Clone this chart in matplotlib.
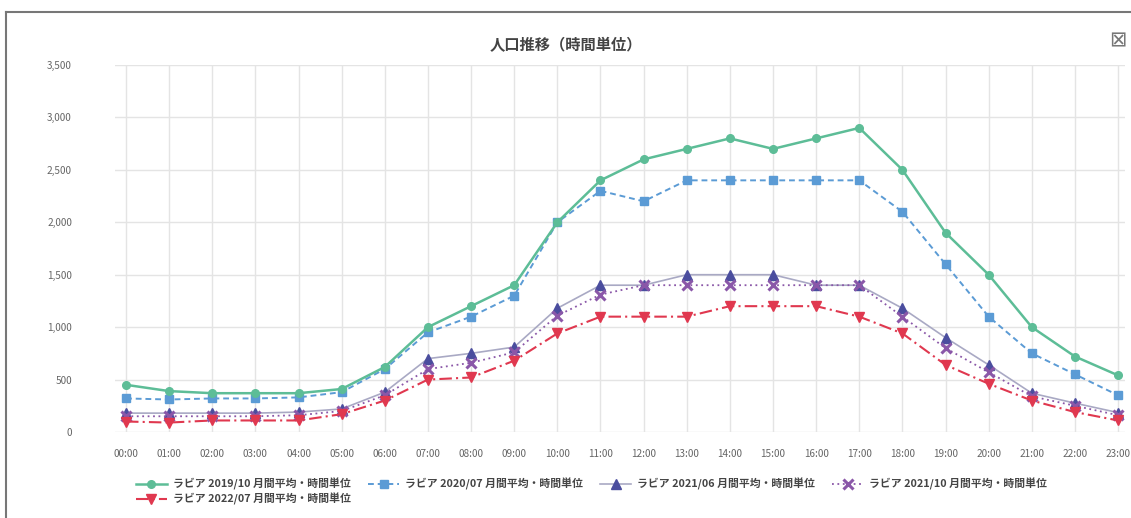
import matplotlib
matplotlib.use("Agg")
import matplotlib.pyplot as plt
from matplotlib.lines import Line2D

plt.rcParams['font.family'] = ['Noto Sans CJK JP', 'DejaVu Sans']

hours = ["%02d:00" % h for h in range(24)]
y_ticks = [0, 500, 1000, 1500, 2000, 2500, 3000, 3500]

s2019_10 = [450, 390, 370, 370, 370, 410, 620, 1000, 1200, 1400, 2000, 2400,
            2600, 2700, 2800, 2700, 2800, 2900, 2500, 1900, 1500, 1000, 720, 540]
s2020_07 = [320, 310, 320, 320, 330, 380, 600, 950, 1100, 1300, 2000, 2300,
            2200, 2400, 2400, 2400, 2400, 2400, 2100, 1600, 1100, 750, 550, 350]
s2021_06 = [180, 180, 180, 180, 190, 220, 380, 700, 750, 810, 1180, 1400,
            1400, 1500, 1500, 1500, 1400, 1400, 1180, 900, 640, 370, 275, 185]
s2021_10 = [150, 150, 150, 150, 160, 200, 350, 600, 660, 760, 1110, 1310,
            1400, 1400, 1400, 1400, 1400, 1400, 1100, 800, 570, 340, 250, 160]
s2022_07 = [100, 90, 110, 110, 110, 170, 300, 500, 520, 680, 940, 1100,
            1100, 1100, 1200, 1200, 1200, 1100, 940, 640, 460, 300, 190, 110]

labels = [
    "ラビア 2019/10 月間平均・時間単位",
    "ラビア 2020/07 月間平均・時間単位",
    "ラビア 2021/06 月間平均・時間単位",
    "ラビア 2021/10 月間平均・時間単位",
    "ラビア 2022/07 月間平均・時間単位",
]

fig = plt.figure(figsize=(11.31, 5.18), dpi=100)
ax = fig.add_axes([115 / 1131, 1 - 432 / 518, (1125 - 115) / 1131, (432 - 65) / 518])

x = list(range(len(hours)))
h1, = ax.plot(x, s2019_10, color="#5dbd97", lw=1.8, ls="-", marker="o", ms=5.5,
              label=labels[0], clip_on=False, zorder=5)
h2, = ax.plot(x, s2020_07, color="#5b9bd5", lw=1.4, ls=(0, (3, 2)), marker="s", ms=6,
              label=labels[1], clip_on=False, zorder=4)
h3, = ax.plot(x, s2021_06, color="#a9a9c4", lw=1.2, ls="-", marker="^", ms=7,
              mfc="#4a4d9e", mec="#4a4d9e", label=labels[2], clip_on=False, zorder=3)
h4, = ax.plot(x, s2021_10, color="#8a57a8", lw=1.3, ls=(0, (1, 2)), marker="x", ms=7,
              mew=2.2, label=labels[3], clip_on=False, zorder=3)
h5, = ax.plot(x, s2022_07, color="#e0384f", lw=1.5, ls=(0, (6, 2, 1, 2)), marker="v", ms=7,
              label=labels[4], clip_on=False, zorder=3)

ax.set_xlim(-0.255, 23.16)
ax.set_ylim(0, 3500)
ax.set_xticks(x)
ax.set_xticklabels(hours)
ax.set_yticks(y_ticks)
ax.set_yticklabels(["{:,}".format(v) for v in y_ticks])
ax.tick_params(axis="both", length=0, labelsize=7.2, labelcolor="#666666")
ax.tick_params(axis="y", pad=31)
ax.tick_params(axis="x", pad=12)
ax.grid(True, color="#e4e4e4", lw=1.0)
ax.set_axisbelow(True)
for sp in ax.spines.values():
    sp.set_visible(False)

fig.text(0.5, 1 - 45 / 518, "人口推移（時間単位）", ha="center", va="center",
         fontsize=11, fontweight="bold", color="#444444")
fig.text(1118 / 1131, 1 - 40 / 518, "⊠", ha="center", va="center",
         fontsize=15, color="#777777", family=["DejaVu Sans"])

# order so that matplotlib's column filling gives 4 on the first row, 1 on the second
leg = fig.legend([h1, h5, h2, h3, h4],
                 [labels[0], labels[4], labels[1], labels[2], labels[3]],
                 ncol=4, loc="upper left", bbox_to_anchor=(126 / 1131, 1 - 468 / 518),
                 frameon=False, fontsize=7.8, handlelength=2.9, columnspacing=1.6,
                 labelspacing=0.25, handletextpad=0.5)
for t in leg.get_texts():
    t.set_color("#444444")
    t.set_fontweight("bold")

# outer frame (top and left edges visible in the screenshot)
fig.add_artist(Line2D([6 / 1131, 1.0], [1 - 12 / 518] * 2, color="#777777", lw=1.5))
fig.add_artist(Line2D([6 / 1131] * 2, [0.0, 1 - 12 / 518], color="#777777", lw=1.5))

fig.savefig("out.png", dpi=100)
